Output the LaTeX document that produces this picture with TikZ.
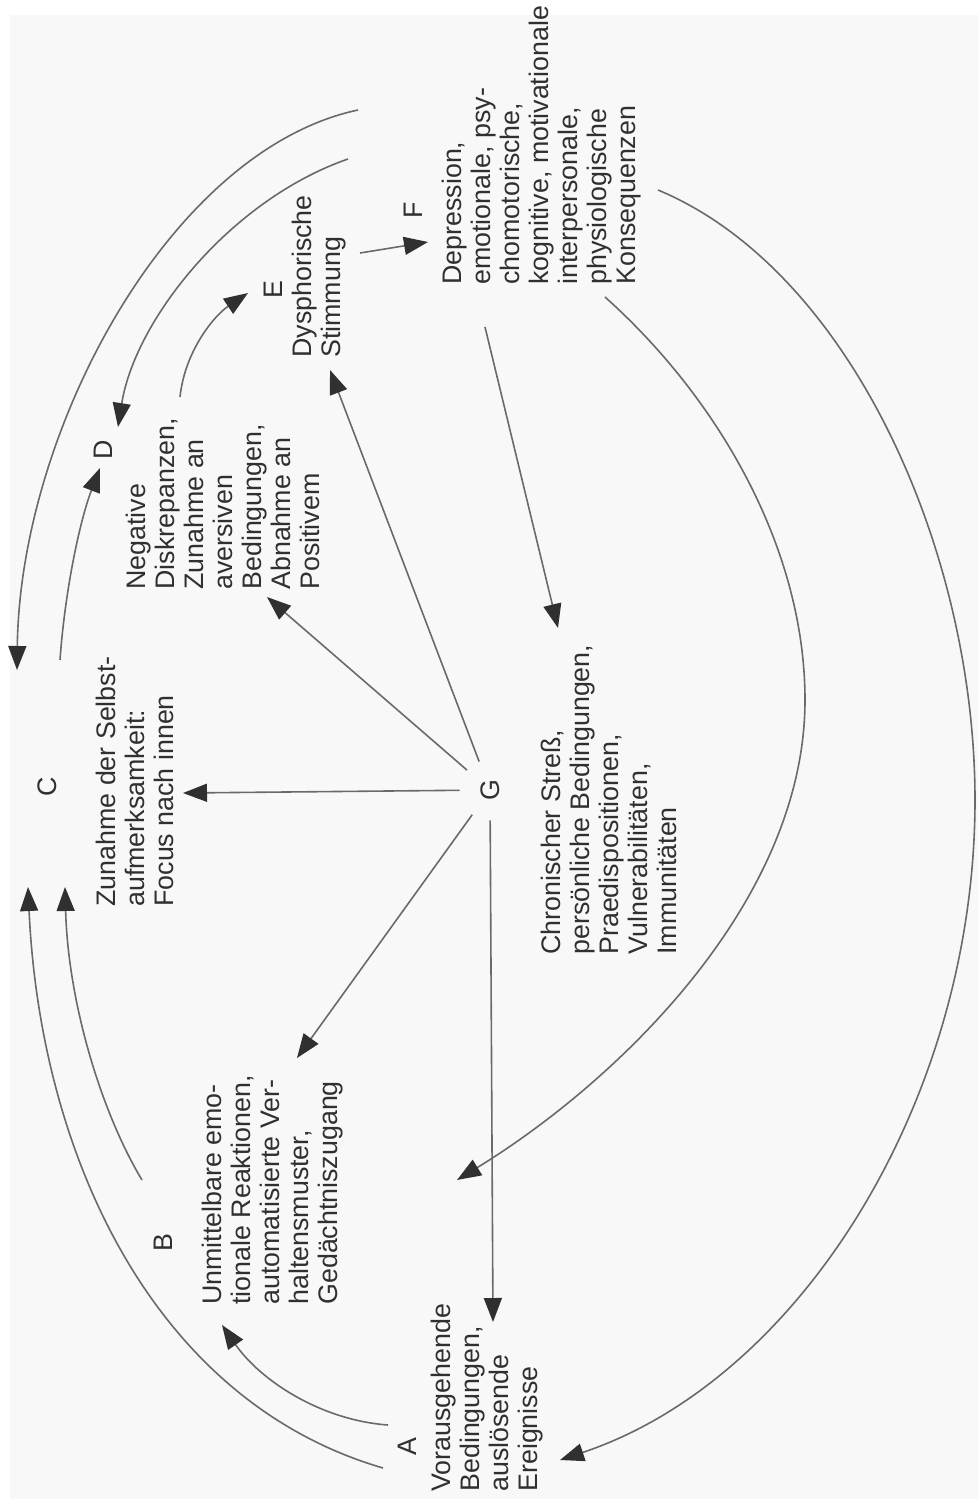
\documentclass[tikz,border=0pt]{standalone}
\usepackage{fontspec}
\setmainfont{Liberation Sans}
\usetikzlibrary{arrows.meta}
\definecolor{ink}{HTML}{303030}
\definecolor{ln}{HTML}{6A6A6A}
\definecolor{paper}{HTML}{F8F8F8}
\begin{document}
\begin{tikzpicture}[x=0.5pt,y=-0.5pt,
  txt/.style={rotate=90,align=left,anchor=north west,inner sep=0pt,font=\fontsize{13.4}{14.5}\selectfont,text=ink},
  lbl/.style={rotate=90,inner sep=0pt,font=\fontsize{13.4}{14.5}\selectfont,text=ink},
  conn/.style={draw=ln,line width=0.8pt,-{Triangle[length=12pt,width=9pt,color=ink]}}]
\fill[white] (0,0) rectangle (979,1499);
\fill[paper] (10,15) rectangle (979,1499);
\useasboundingbox (0,0) rectangle (979,1499);
% letters
\node[lbl] (A) at (407,1447) {A};
\node[lbl] (B) at (163,1243) {B};
\node[lbl] (C) at (47,787) {C};
\node[lbl] (D) at (103,450) {D};
\node[lbl] (E) at (273,290) {E};
\node[lbl] (F) at (413,210) {F};
\node[lbl,circle,minimum size=30pt] (G) at (490,790) {G};
% texts
\node[txt] (tA) at (431,1492) {Vorausgehende\\Bedingungen,\\auslösende\\Ereignisse};
\node[txt] (tB) at (202,1305) {Unmittelbare emo-\\tionale Reaktionen,\\automatisierte Ver-\\haltensmuster,\\Gedächtniszugang};
\node[txt] (tC) at (96,907) {Zunahme der Selbst-\\aufmerksamkeit:\\Focus nach innen};
\node[txt] (tD) at (126,590) {Negative\\Diskrepanzen,\\Zunahme an\\aversiven\\Bedingungen,\\Abnahme an\\Positivem};
\node[txt] (tE) at (292,358) {Dysphorische\\Stimmung};
\node[txt] (tF) at (442,285) {Depression,\\emotionale, psy-\\chomotorische,\\kognitive, motivationale\\interpersonale,\\physiologische\\Konsequenzen};
\node[txt] (tG) at (541,955) {Chronischer Streß,\\persönliche Bedingungen,\\Praedispositionen,\\Vulnerabilitäten,\\Immunitäten};
% connector ends
\coordinate (f1) at (358,110);
\coordinate (f2) at (348,159);
\coordinate (f3) at (485,327);
\coordinate (f4) at (605,297);
\coordinate (f5) at (658,190);
\coordinate (f6) at (428,242);
\coordinate (c1) at (17,670);
\coordinate (c2) at (60,660);
\coordinate (c3) at (28,887);
\coordinate (c4) at (65,887);
\coordinate (d1) at (118,427);
\coordinate (d2) at (100,468);
\coordinate (d3) at (180,397);
\coordinate (d4) at (267,597);
\coordinate (e1) at (248,293);
\coordinate (e2) at (360,253);
\coordinate (e3) at (330,370);
\coordinate (cIn) at (183,793);
\coordinate (gIn) at (558,628);
\coordinate (b1) at (297,1058);
\coordinate (b2) at (222,1325);
\coordinate (b3) at (142,1180);
\coordinate (b4) at (457,1180);
\coordinate (a1) at (388,1425);
\coordinate (a2) at (383,1468);
\coordinate (a3) at (493,1322);
\coordinate (a4) at (560,1460);
% connectors
\draw[conn] (f1) .. controls (170,150) and (20,430) .. (c1);
\draw[conn] (f2) .. controls (230,200) and (135,320) .. (d1);
\draw[conn] (d3) .. controls (185,350) and (215,315) .. (e1);
\draw[conn] (c2) .. controls (65,590) and (80,520) .. (d2);
\draw[conn] (e2) -- (f6);
\draw[conn] (a1) .. controls (320,1420) and (260,1380) .. (b2);
\draw[conn] (a2) .. controls (150,1400) and (40,1150) .. (c3);
\draw[conn] (b3) .. controls (100,1110) and (68,1000) .. (c4);
\draw[conn] (G) -- (cIn);
\draw[conn] (G) -- (d4);
\draw[conn] (G) -- (e3);
\draw[conn] (G) -- (b1);
\draw[conn] (G) -- (a3);
\draw[conn] (f3) -- (gIn);
\draw[conn] (f4) .. controls (720,400) and (805,550) .. (805,700) .. controls (805,900) and (620,1080) .. (b4);
\draw[conn] (f5) .. controls (850,270) and (975,550) .. (975,800) .. controls (975,1100) and (800,1380) .. (a4);
\end{tikzpicture}
\end{document}
